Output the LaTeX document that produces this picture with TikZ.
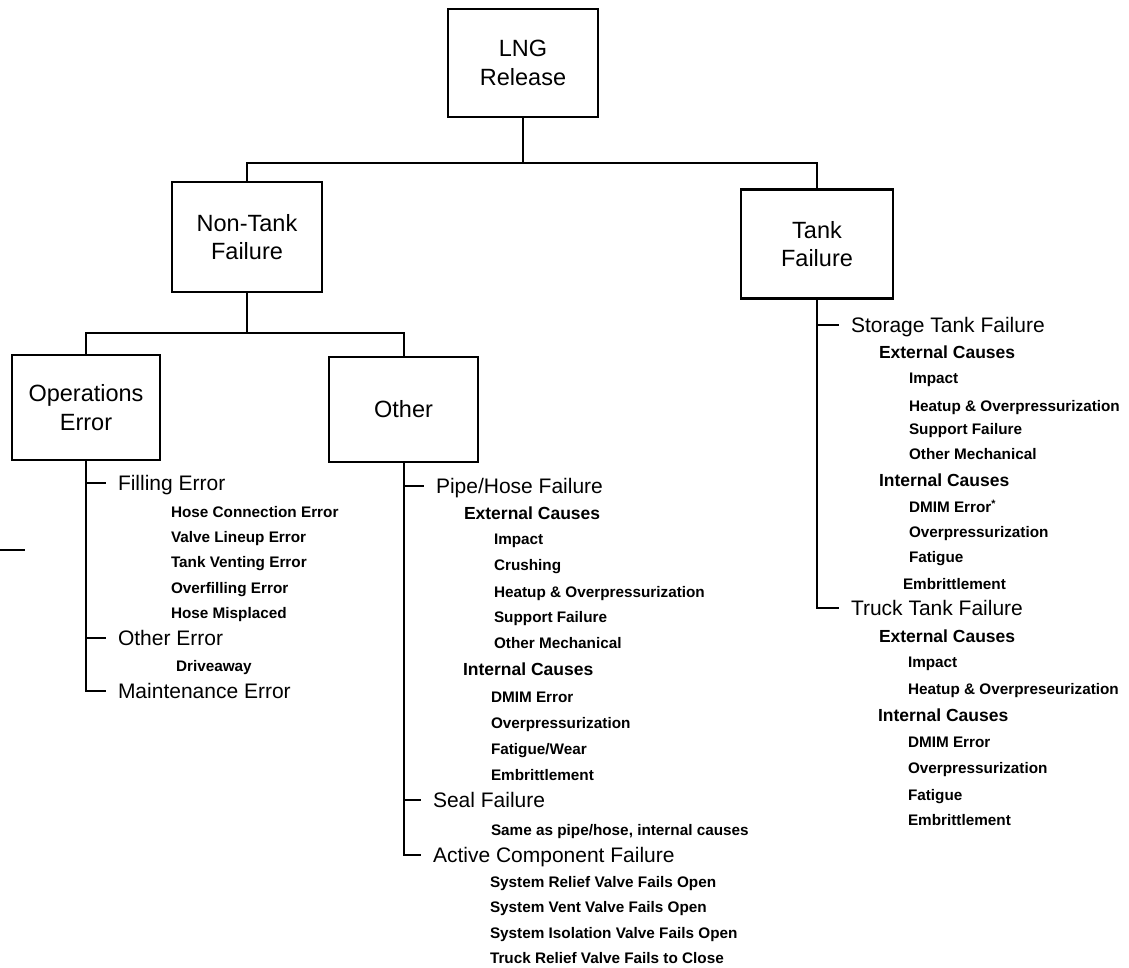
\documentclass[tikz,border=0pt]{standalone}
\usepackage{fontspec}
\setmainfont{Liberation Sans}
\begin{document}
\begin{tikzpicture}[x=1pt,y=-1pt,line width=2pt,
  box/.style={draw,line width=2.2pt,align=center,inner sep=0pt,
    font=\fontsize{23.5}{28.5}\selectfont},
  lone/.style={anchor=west,inner xsep=11pt,inner ysep=0pt,text height=15pt,text depth=0pt,
    font=\fontsize{21}{25}\selectfont},
  ltwo/.style={anchor=west,inner sep=0pt,text height=12.5pt,text depth=0pt,
    font=\fontsize{17.5}{21}\selectfont\bfseries},
  lthree/.style={anchor=west,inner sep=0pt,text height=11pt,text depth=0pt,
    font=\fontsize{15.3}{18}\selectfont\bfseries}]
\useasboundingbox (0,0) rectangle (1129,968);
% boxes
\node[box,minimum width=150pt,minimum height=108pt] (lng) at (523,63) {LNG\\Release};
\node[box,minimum width=150pt,minimum height=110pt] (nt) at (247,237) {Non-Tank\\Failure};
\node[box,minimum width=152pt,minimum height=109pt] (tk) at (817,244) {Tank\\Failure};
\node[box,minimum width=148pt,minimum height=105pt] (ops) at (86,407.5) {Operations\\Error};
\node[box,minimum width=149pt,minimum height=105pt] (oth) at (403.5,409.5) {Other};
\coordinate (bar) at (0,163);
\coordinate (bartwo) at (0,333);
\draw (lng.south) -- (lng.south |- bar);
\draw (nt.north) -- (nt.north |- bar) -- (tk.north |- bar) -- (tk.north);
\draw (nt.south) -- (nt.south |- bartwo);
\draw (ops.north) -- (ops.north |- bartwo) -- (oth.north |- bartwo) -- (oth.north);
% stray mark at left edge
\coordinate (sa) at (0,550);
\coordinate (sb) at (25,550);
\draw[line width=1.5pt] (sa) -- (sb);
% Operations Error branch
\node[lone] (fill) at (106,483) {Filling Error};
\node[lthree] (hce) at (170,512) {Hose Connection Error};
\node[lthree] (vle) at (170,537) {Valve Lineup Error};
\node[lthree] (tve) at (170,562) {Tank Venting Error};
\node[lthree] (ofe) at (170,588) {Overfilling Error};
\node[lthree] (hmp) at (170,613) {Hose Misplaced};
\node[lone] (oerr) at (106,638) {Other Error};
\node[lthree] (drv) at (175,666) {Driveaway};
\node[lone] (mnt) at (106,691) {Maintenance Error};
\draw (ops.south) |- (mnt.west);
\draw (ops.south |- fill.west) -- (fill.west);
\draw (ops.south |- oerr.west) -- (oerr.west);
% Other branch
\node[lone] (pipe) at (424,486) {Pipe/Hose Failure};
\node[ltwo] (pext) at (463,513) {External Causes};
\node[lthree] (pa) at (493,539) {Impact};
\node[lthree] (pb) at (493,565) {Crushing};
\node[lthree] (pc) at (493,592) {Heatup \& Overpressurization};
\node[lthree] (pd) at (493,617) {Support Failure};
\node[lthree] (pe) at (493,643) {Other Mechanical};
\node[ltwo] (pint) at (462,669) {Internal Causes};
\node[lthree] (pf) at (490,697) {DMIM Error};
\node[lthree] (pg) at (490,723) {Overpressurization};
\node[lthree] (ph) at (490,749) {Fatigue/Wear};
\node[lthree] (pi) at (490,775) {Embrittlement};
\node[lone] (seal) at (421,800) {Seal Failure};
\node[lthree] (same) at (490,830) {Same as pipe/hose, internal causes};
\node[lone] (act) at (421,855) {Active Component Failure};
\node[lthree] (aa) at (489,882) {System Relief Valve Fails Open};
\node[lthree] (ab) at (489,907) {System Vent Valve Fails Open};
\node[lthree] (ac) at (489,933) {System Isolation Valve Fails Open};
\node[lthree] (ad) at (489,958) {Truck Relief Valve Fails to Close};
\draw (oth.south) |- (act.west);
\draw (oth.south |- pipe.west) -- (pipe.west);
\draw (oth.south |- seal.west) -- (seal.west);
% Tank branch
\node[lone] (stor) at (839,325) {Storage Tank Failure};
\node[ltwo] (sext) at (878,352) {External Causes};
\node[lthree] (sa1) at (908,378) {Impact};
\node[lthree] (sa2) at (908,406) {Heatup \& Overpressurization};
\node[lthree] (sa3) at (908,429) {Support Failure};
\node[lthree] (sa4) at (908,454) {Other Mechanical};
\node[ltwo] (sint) at (878,480) {Internal Causes};
\node[lthree] (sb1) at (908,507) {DMIM Error\textsuperscript{*}};
\node[lthree] (sb2) at (908,532) {Overpressurization};
\node[lthree] (sb3) at (908,557) {Fatigue};
\node[lthree] (sb4) at (902,584) {Embrittlement};
\node[lone] (truck) at (839,608) {Truck Tank Failure};
\node[ltwo] (text) at (878,636) {External Causes};
\node[lthree] (ta1) at (907,662) {Impact};
\node[lthree] (ta2) at (907,689) {Heatup \& Overpreseurization};
\node[ltwo] (tint) at (877,715) {Internal Causes};
\node[lthree] (tb1) at (907,742) {DMIM Error};
\node[lthree] (tb2) at (907,768) {Overpressurization};
\node[lthree] (tb3) at (907,795) {Fatigue};
\node[lthree] (tb4) at (907,820) {Embrittlement};
\draw (tk.south) |- (truck.west);
\draw (tk.south |- stor.west) -- (stor.west);
\end{tikzpicture}
\end{document}
